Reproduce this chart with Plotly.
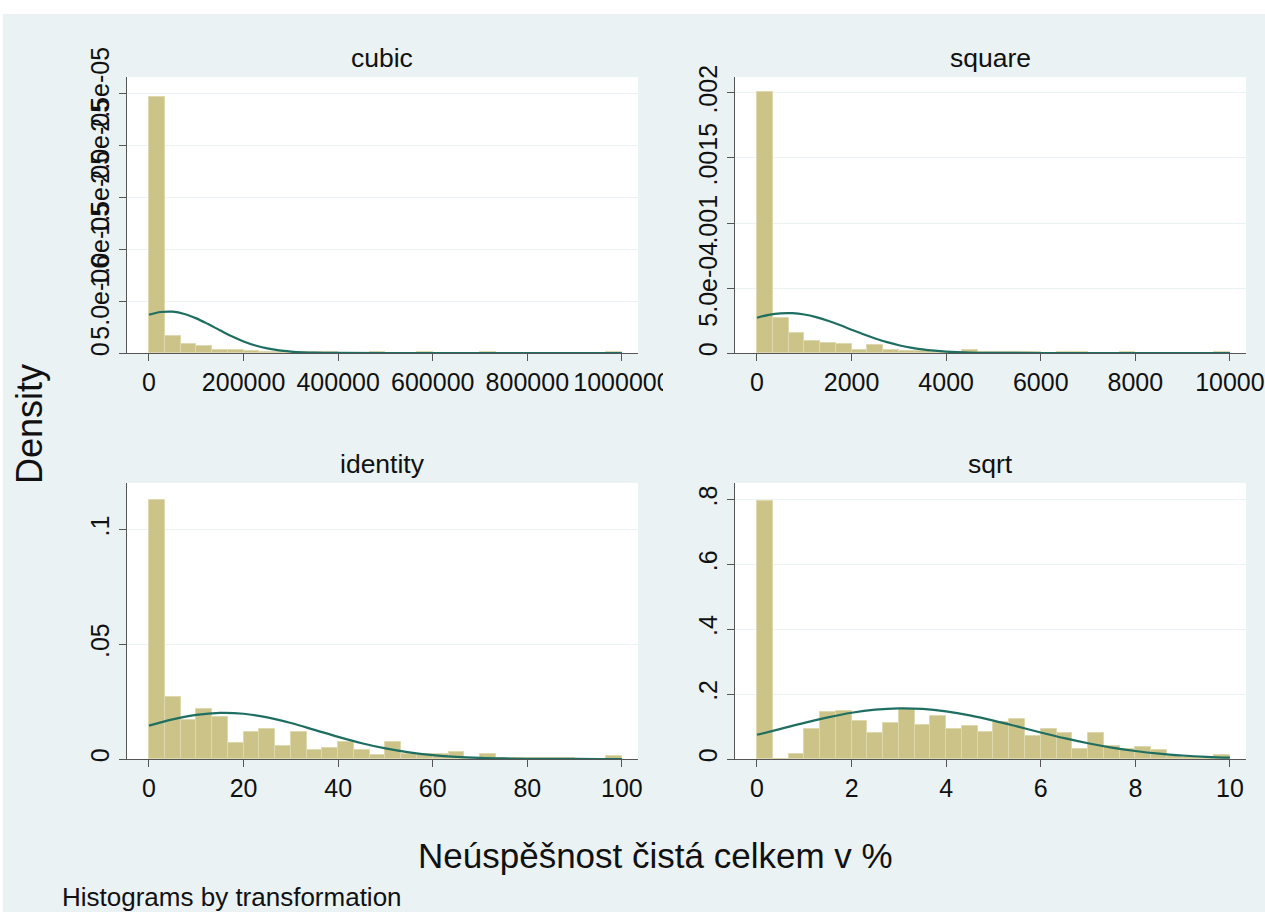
import numpy as np
import plotly.graph_objects as go

# ---------------- data ----------------
n_bins = 30

cubic_max = 1000000
cubic_density = [2.46e-5, 1.65e-6, 8.8e-7, 7.2e-7, 2.7e-7, 2.7e-7, 1.7e-7, 1.0e-7, 8e-8, 5e-8,
                 8e-8, 6e-8, 3e-8, 3e-8, 6e-8, 3e-8, 3e-8, 6e-8, 3e-8, 0,
                 3e-8, 6e-8, 0, 3e-8, 0, 0, 0, 0, 0, 6e-8]
cubic_curve_x = [0, 25000, 50000, 75000, 100000, 125000, 150000, 175000, 200000, 225000,
                 250000, 275000, 300000, 325000, 350000, 400000, 500000, 700000, 1000000]
cubic_curve_y = [3.68e-6, 3.94e-6, 3.97e-6, 3.75e-6, 3.33e-6, 2.78e-6, 2.18e-6, 1.60e-6, 1.11e-6, 7.2e-7,
                 4.4e-7, 2.5e-7, 1.4e-7, 7e-8, 3e-8, 6e-9, 0, 0, 0]

square_max = 10000
square_density = [0.002008, 0.000268, 0.000153, 0.000094, 0.000080, 0.000073, 0.000022, 0.000062, 0.000022, 0.000016,
                  0.000012, 0.000008, 0.000005, 0.000020, 0.000008, 0.000005, 0.000005, 0.000004, 0.000003, 0.000004,
                  0.000004, 0.000002, 0.000002, 0.000004, 0.000002, 0.000001, 0.000001, 0.000001, 0.000001, 0.000006]
square_curve_x = [0, 250, 500, 750, 1000, 1250, 1500, 1750, 2000, 2250, 2500, 2750, 3000, 3250,
                  3500, 3750, 4000, 4500, 5000, 6000, 8000, 10000]
square_curve_y = [0.000271, 0.000293, 0.000305, 0.000306, 0.000296, 0.000276, 0.000248, 0.000215, 0.000179,
                  0.000144, 0.000112, 0.0000833, 0.0000599, 0.0000415, 0.0000277, 0.0000179, 0.0000111,
                  0.0000038, 0.0000011, 0.0000001, 0, 0]

identity_max = 100
identity_density = [0.1131, 0.0269, 0.0171, 0.0216, 0.0182, 0.0072, 0.0117, 0.0130, 0.0058, 0.0118,
                    0.0039, 0.0047, 0.0076, 0.0039, 0.0018, 0.0073, 0.0020, 0.0020, 0.0022, 0.0032,
                    0.0006, 0.0022, 0.0003, 0.0006, 0.0003, 0.0006, 0.0003, 0.0, 0.0, 0.0012]
identity_curve_x = [0, 5, 10, 15, 20, 25, 30, 35, 40, 45, 50, 55, 60, 65, 70, 75, 80, 85, 90, 95, 100]
identity_curve_y = [0.01454, 0.01727, 0.01925, 0.02012, 0.01974, 0.01817, 0.01569, 0.01271, 0.00967,
                    0.00689, 0.00461, 0.00290, 0.00171, 0.00094, 0.00049, 0.00024, 0.00011, 0.00005,
                    0.00002, 0.00001, 0.000003]

sqrt_max = 10
sqrt_density = [0.797, 0.0, 0.015, 0.093, 0.145, 0.149, 0.118, 0.081, 0.112, 0.153,
                0.104, 0.133, 0.092, 0.103, 0.082, 0.115, 0.122, 0.072, 0.093, 0.080,
                0.031, 0.080, 0.040, 0.031, 0.037, 0.029, 0.010, 0.005, 0.004, 0.013]
sqrt_curve_x = [0, 0.5, 1, 1.5, 2, 2.5, 3, 3.5, 4, 4.5, 5, 5.5, 6, 6.5, 7, 7.5, 8, 8.5, 9, 9.5, 10]
sqrt_curve_y = [0.0747, 0.0930, 0.1115, 0.1285, 0.1426, 0.1522, 0.1563, 0.1545, 0.1470, 0.1346, 0.1185,
                0.1005, 0.0819, 0.0643, 0.0486, 0.0353, 0.0247, 0.0166, 0.0108, 0.0067, 0.0040]

cubic_xticks = [0, 200000, 400000, 600000, 800000, 1000000]
cubic_xtext = ["0", "200000", "400000", "600000", "800000", "1000000"]
cubic_yticks = [0, 5e-6, 1e-5, 1.5e-5, 2e-5, 2.5e-5]
cubic_ytext = ["0", "5.0e-06", "1.0e-05", "1.5e-05", "2.0e-05", "2.5e-05"]
square_xticks = [0, 2000, 4000, 6000, 8000, 10000]
square_xtext = ["0", "2000", "4000", "6000", "8000", "10000"]
square_yticks = [0, 0.0005, 0.001, 0.0015, 0.002]
square_ytext = ["0", "5.0e-04", ".001", ".0015", ".002"]
identity_xticks = [0, 20, 40, 60, 80, 100]
identity_xtext = ["0", "20", "40", "60", "80", "100"]
identity_yticks = [0, 0.05, 0.1]
identity_ytext = ["0", ".05", ".1"]
sqrt_xticks = [0, 2, 4, 6, 8, 10]
sqrt_xtext = ["0", "2", "4", "6", "8", "10"]
sqrt_yticks = [0, 0.2, 0.4, 0.6, 0.8]
sqrt_ytext = ["0", ".2", ".4", ".6", ".8"]

panel_titles = ["cubic", "square", "identity", "sqrt"]

# ---------------- figure ----------------
W, H = 1265, 915
BG = "#EAF2F3"
BAR = "#CBC387"
BAR_LINE = "#DDD8AE"
CURVE = "#1E6E62"
AXIS = "#555555"
FONT = "Liberation Sans, Arial, sans-serif"
TXT = "#111111"

def px(x):
    return x / W

def py(y):
    return 1 - y / H

panels = [
    (cubic_density, cubic_max, cubic_curve_x, cubic_curve_y, cubic_xticks, cubic_xtext, cubic_yticks, cubic_ytext,
     [-0.0465 * cubic_max, 1.034 * cubic_max], [0, 2.654e-5], 127, 638, 77, 353),
    (square_density, square_max, square_curve_x, square_curve_y, square_xticks, square_xtext, square_yticks, square_ytext,
     [-0.0465 * square_max, 1.034 * square_max], [0, 0.002123], 735, 1246, 77, 353),
    (identity_density, identity_max, identity_curve_x, identity_curve_y, identity_xticks, identity_xtext, identity_yticks, identity_ytext,
     [-0.0465 * identity_max, 1.034 * identity_max], [0, 0.1204], 127, 638, 483, 759),
    (sqrt_density, sqrt_max, sqrt_curve_x, sqrt_curve_y, sqrt_xticks, sqrt_xtext, sqrt_yticks, sqrt_ytext,
     [-0.0465 * sqrt_max, 1.034 * sqrt_max], [0, 0.8515], 735, 1246, 483, 759),
]

fig = go.Figure()
layout_axes = {}
annotations = []

for i, (dens, vmax, cx, cy, xt, xtt, yt, ytt, xr, yr, L, R, T, B) in enumerate(panels, start=1):
    xa = "x" if i == 1 else f"x{i}"
    ya = "y" if i == 1 else f"y{i}"
    width = vmax / n_bins
    edges = np.linspace(0, vmax, n_bins + 1)[:-1]
    fig.add_trace(go.Bar(x=edges, y=dens, width=width, offset=0,
                         marker=dict(color=BAR, line=dict(color=BAR_LINE, width=1)),
                         xaxis=xa, yaxis=ya, showlegend=False, hoverinfo="skip"))
    fig.add_trace(go.Scatter(x=cx, y=cy, mode="lines", line=dict(color=CURVE, width=2.2, shape="spline"),
                             xaxis=xa, yaxis=ya, showlegend=False, hoverinfo="skip", cliponaxis=True))
    xname = "xaxis" if i == 1 else f"xaxis{i}"
    yname = "yaxis" if i == 1 else f"yaxis{i}"
    layout_axes[xname] = dict(domain=[px(L), px(R)], anchor=ya, range=xr, tickvals=xt, ticktext=xtt,
                              showline=True, linecolor=AXIS, linewidth=1.3, ticks="outside", ticklen=7,
                              tickcolor=AXIS, tickwidth=1.3, showgrid=False, zeroline=False, automargin=False,
                              tickfont=dict(family=FONT, size=25, color=TXT), fixedrange=True)
    layout_axes[yname] = dict(domain=[py(B), py(T)], anchor=xa, range=yr, tickvals=yt, ticktext=ytt,
                              showline=True, linecolor=AXIS, linewidth=1.3, ticks="outside", ticklen=7,
                              tickcolor=AXIS, tickwidth=1.3, showgrid=True, gridcolor=BG, gridwidth=1.2,
                              zeroline=False, tickangle=-90, automargin=False,
                              tickfont=dict(family=FONT, size=25, color=TXT), fixedrange=True)
    annotations.append(dict(text=panel_titles[i - 1], x=px((L + R) / 2), y=py(T - 19), xref="paper", yref="paper",
                            showarrow=False, xanchor="center", yanchor="middle",
                            font=dict(family=FONT, size=26.5, color=TXT)))

annotations.append(dict(text="Density", x=px(30), y=py(424), xref="paper", yref="paper", showarrow=False,
                        textangle=-90, xanchor="center", yanchor="middle",
                        font=dict(family=FONT, size=36, color=TXT)))
annotations.append(dict(text="Neúspěšnost čistá celkem v %", x=px(655), y=py(855), xref="paper", yref="paper",
                        showarrow=False, xanchor="center", yanchor="middle",
                        font=dict(family=FONT, size=35, color=TXT)))
annotations.append(dict(text="Histograms by transformation", x=px(60), y=py(897), xref="paper", yref="paper",
                        showarrow=False, xanchor="left", yanchor="middle",
                        font=dict(family=FONT, size=26, color=TXT)))

shapes = [
    dict(type="rect", xref="paper", yref="paper", x0=0, x1=1, y0=py(14), y1=1, fillcolor="white",
         line=dict(width=0), layer="below"),
    dict(type="rect", xref="paper", yref="paper", x0=0, x1=px(3), y0=0, y1=1, fillcolor="white",
         line=dict(width=0), layer="below"),
    dict(type="rect", xref="paper", yref="paper", x0=0, x1=1, y0=0, y1=py(912), fillcolor="white",
         line=dict(width=0), layer="below"),
    # clip of the cubic panel's last tick label at its region edge
    dict(type="rect", xref="paper", yref="paper", x0=px(663), x1=px(700), y0=py(405), y1=py(365),
         fillcolor=BG, line=dict(width=0), layer="above"),
]

fig.update_layout(width=W, height=H, margin=dict(l=0, r=0, t=0, b=0, pad=0, autoexpand=False),
                  paper_bgcolor=BG, plot_bgcolor="white",
                  bargap=0, barmode="overlay", annotations=annotations, shapes=shapes, showlegend=False,
                  **layout_axes)

fig.write_html("out.html", config={"displayModeBar": False})
